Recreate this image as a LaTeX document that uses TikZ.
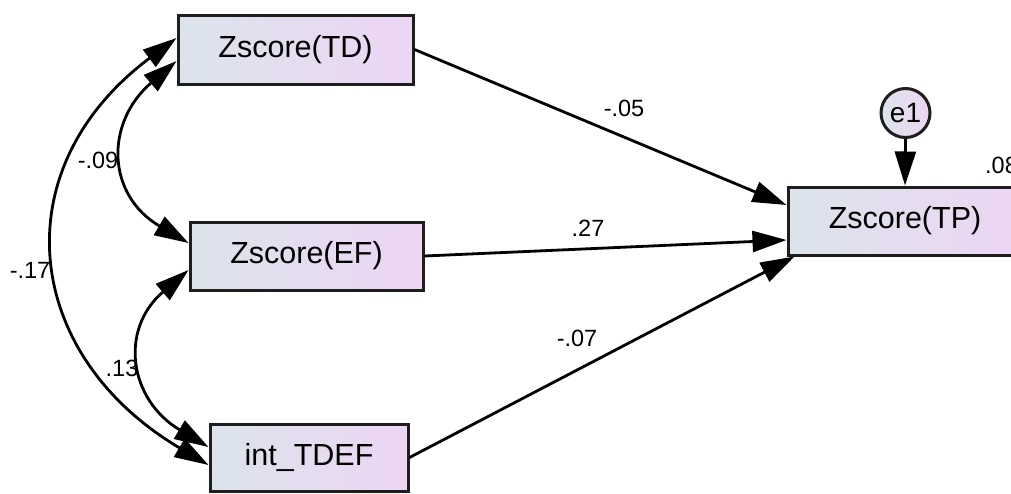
\documentclass[tikz,border=0pt]{standalone}
\usepackage{fontspec}
\setmainfont{Liberation Sans}
\usetikzlibrary{arrows.meta}
\definecolor{boxleft}{RGB}{220,228,235}
\definecolor{boxright}{RGB}{237,213,244}
\definecolor{edge}{RGB}{30,30,30}
\tikzset{
  varbox/.style={draw=edge, line width=3pt, left color=boxleft, right color=boxright,
    inner sep=0pt, font=\fontsize{30.5}{36}\selectfont, text=black},
  errnode/.style={circle, draw=edge, line width=3pt, left color=boxleft, right color=boxright,
    inner sep=0pt, minimum size=49pt, font=\fontsize{28}{32}\selectfont},
  path/.style={line width=2.8pt, draw=black, -{Triangle[length=34pt,width=21pt]}},
  cov/.style={line width=2.8pt, draw=black, {Triangle[length=34pt,width=21pt]}-{Triangle[length=34pt,width=21pt]}},
  lbl/.style={font=\fontsize{23.5}{27}\selectfont, text=black, inner sep=0pt}
}
\begin{document}
\begin{tikzpicture}[x=1pt,y=-1pt]
\clip (0,0) rectangle (1011,493);
\useasboundingbox (0,0) rectangle (1011,493);
\fill[white] (0,0) rectangle (1011,493);
% nodes
\node[varbox, minimum width=235pt, minimum height=69pt] (td) at (295.5,49.5) {Zscore(TD)};
\node[varbox, minimum width=233pt, minimum height=68pt] (ef) at (306.5,256) {Zscore(EF)};
\node[varbox, minimum width=198pt, minimum height=67pt] (int) at (309,457.5) {int\_TDEF};
\node[varbox, minimum width=234pt, minimum height=68pt] (tp) at (905,221) {Zscore(TP)};
\node[errnode] (e1) at (905.5,113) {e1};
% regression paths
\draw[path] (td.east) -- ([yshift=16pt]tp.west);
\draw[path] (ef.east) -- ([yshift=-19pt]tp.west);
\draw[path] (int.east) -- ([xshift=8pt]tp.south west);
\draw[path] (e1.south) -- (tp.north);
% covariances
\draw[cov] ([yshift=-11.5pt]td.west) .. controls +(-72,62) and +(-82,-48) .. ([yshift=13pt]ef.west);
\draw[cov] ([yshift=-14pt]ef.west) .. controls +(-70,60) and +(-79,-47) .. ([yshift=10.5pt]int.west);
\draw[cov] ([yshift=11.5pt]td.west) .. controls +(-175,131) and +(-186,-110) .. ([yshift=-7.5pt]int.west);
% labels
\node[lbl] (l05) at (624,108) {-.05};
\node[lbl] (l27) at (588,228) {.27};
\node[lbl] (l07) at (577,338) {-.07};
\node[lbl] (l09) at (98,160) {-.09};
\node[lbl] (l13) at (122,368) {.13};
\node[lbl] (l17) at (30,270) {-.17};
\node[lbl, anchor=west] (l08) at (985,165) {.08};
\end{tikzpicture}
\end{document}
